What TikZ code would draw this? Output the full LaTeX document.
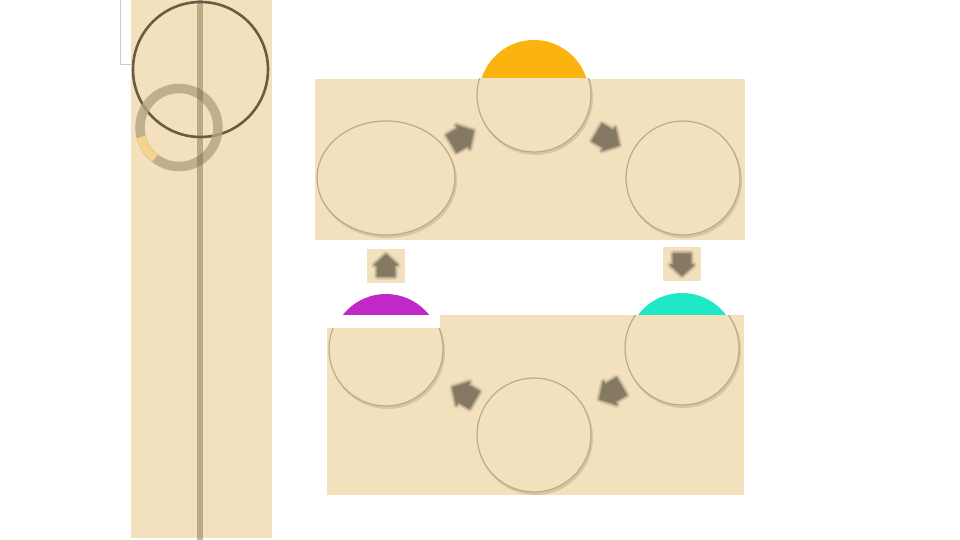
\documentclass[tikz,border=0pt]{standalone}
\usetikzlibrary{calc,shapes.geometric}
\definecolor{beige}{RGB}{242,225,188}
\definecolor{cedge}{RGB}{190,171,132}
\definecolor{shadowc}{RGB}{150,130,95}
\definecolor{arrowc}{RGB}{133,121,99}
\definecolor{orng}{RGB}{251,180,15}
\definecolor{mgnt}{RGB}{192,40,200}
\definecolor{cyn}{RGB}{30,232,198}
\definecolor{ringc}{RGB}{180,163,130}
\definecolor{ylw}{RGB}{244,212,140}
\definecolor{darkc}{RGB}{90,78,55}
\definecolor{vline}{RGB}{110,95,70}
\tikzset{
  panel/.style={fill=beige, draw=none},
  circ/.style={circle, fill=beige, draw=cedge, line width=1.2pt, inner sep=0pt, minimum size=114pt},
  ecirc/.style={ellipse, fill=beige, draw=cedge, line width=1.2pt, inner sep=0pt, minimum width=138pt, minimum height=114pt},
  shad/.style={fill=shadowc, opacity=0.28},
  halo/.style={circle, inner sep=0pt, minimum size=110pt, draw=none},
  boxstyle/.style={rectangle, fill=beige, draw=none, inner sep=0pt, minimum width=38pt, minimum height=34pt},
  blk/.pic={
    \foreach \w/\o in {7/0.15, 4.5/0.3, 2/0.55}{
      \draw[arrowc, line width=\w pt, opacity=\o, line join=round]
        (0,-12)--(12,-1)--(9,-1)--(9,11)--(-9,11)--(-9,-1)--(-12,-1)--cycle;}
    \fill[arrowc] (0,-12)--(12,-1)--(9,-1)--(9,11)--(-9,11)--(-9,-1)--(-12,-1)--cycle;
  }
}
\begin{document}
\begin{tikzpicture}[x=1pt,y=-1pt]
\useasboundingbox (0,0) rectangle (960,540);
\fill[white] (0,0) rectangle (960,540);

% left strip
\draw[fill=white, draw=gray!40, line width=0.8pt] (120.5,-1) rectangle (140,64);
\fill[beige] (130.5,0) rectangle (272,538);
\draw[darkc, line width=2.6pt, opacity=0.9] (200.5,69.5) circle[radius=67.5];
\draw[ringc, line width=9.5pt, opacity=0.8] (179,127.5) circle[radius=39];
\draw[ylw, line width=9pt] (179,127.5) ++(166:39) arc[start angle=166, end angle=128, radius=39];
\draw[vline, line width=5.5pt, opacity=0.42] (200,0) -- (200,540);

% coloured halos
\node[halo, fill=orng] (ho) at (534,95) {};
\node[halo, fill=mgnt] (hm) at (386,349) {};
\node[halo, fill=cyn] (hc) at (682,348) {};

% top panel
\fill[panel] (315,79) rectangle (745,240);
\begin{scope}
  \clip (315,79) rectangle (745,240);
  \fill[shad] (387.5,180.5) ellipse[x radius=69.5, y radius=57.5];
  \fill[shad] (535.5,97.5) circle[radius=57.5];
  \fill[shad] (684.5,180.5) circle[radius=57.5];
  \node[ecirc] (t1) at (386,178) {};
  \node[circ] (t2) at (534,95) {};
  \node[circ] (t3) at (683,178) {};
\end{scope}

% bottom panel
\fill[panel] (327,315) rectangle (744,495);
\begin{scope}
  \clip (327,315) rectangle (744,495);
  \fill[shad] (387.5,351.5) circle[radius=57.5];
  \fill[shad] (535.5,437.5) circle[radius=57.5];
  \fill[shad] (683.5,350.5) circle[radius=57.5];
  \node[circ] (b1) at (386,349) {};
  \node[circ] (b2) at (534,435) {};
  \node[circ] (b3) at (682,348) {};
\end{scope}
\fill[white] (326,315) rectangle (440,328);

% block arrows inside panels
\path ($(t1)!0.5!(t2)+(2,1)$) pic[rotate=-60, scale=1.1] {blk};
\path ($(t2)!0.5!(t3)+(-1,2)$) pic[rotate=-120, scale=1.1] {blk};
\path ($(b3)!0.5!(b2)+(3,1)$) pic[rotate=120, scale=1.1] {blk};
\path ($(b2)!0.5!(b1)+(4,2)$) pic[rotate=60, scale=1.1] {blk};

% boxes between panels
\node[boxstyle] (bx1) at (386,266) {};
\node[boxstyle] (bx2) at (682,264) {};
\path (bx1) pic[scale=0.95] {blk};
\path (bx2) pic[rotate=180, scale=0.95] {blk};
\end{tikzpicture}
\end{document}
